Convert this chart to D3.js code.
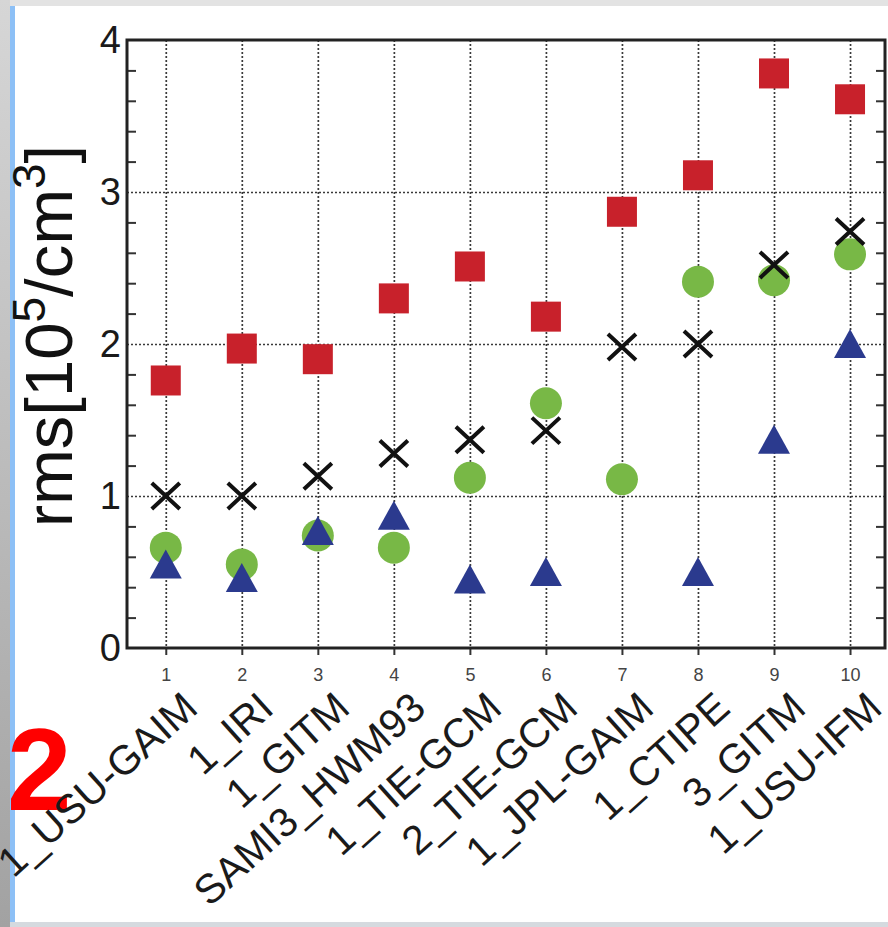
<!DOCTYPE html>
<html>
<head>
<meta charset="utf-8">
<script src="https://cdn.jsdelivr.net/npm/d3@7"></script>
<style>
  body { margin: 0; background: #fff; }
  svg { display: block; }
</style>
</head>
<body>
<div id="chart"></div>
<script>
var categories = ["1_USU-GAIM", "1_IRI", "1_GITM", "SAMI3_HWM93", "1_TIE-GCM",
                  "2_TIE-GCM", "1_JPL-GAIM", "1_CTIPE", "3_GITM", "1_USU-IFM"];
var tickNums = [1, 2, 3, 4, 5, 6, 7, 8, 9, 10];
var yTicks = [0, 1, 2, 3, 4];

// rms values (10^5/cm^3)
var redSquares    = [1.76, 1.97, 1.90, 2.30, 2.51, 2.18, 2.87, 3.11, 3.78, 3.61];
var blackCrosses  = [1.00, 1.00, 1.13, 1.28, 1.37, 1.43, 1.98, 2.00, 2.52, 2.74];
var greenCircles  = [0.66, 0.55, 0.74, 0.66, 1.12, 1.61, 1.11, 2.41, 2.42, 2.59];
var blueTriangles = [0.55, 0.46, 0.77, 0.87, 0.45, 0.50, null, 0.50, 1.37, 2.00];

var W = 888, H = 927;
var margin = {top: 40, right: 3, bottom: 279, left: 127},
    width = W - margin.left - margin.right,
    height = H - margin.top - margin.bottom;

var x = d3.scaleLinear().domain([0.49, 10.46]).range([0, width]);
var y = d3.scaleLinear().domain([0, 4]).range([height, 0]);

var svg = d3.select("#chart").append("svg")
    .attr("width", W)
    .attr("height", H)
    .style("font-family", "'Liberation Sans', Arial, sans-serif");

svg.append("rect").attr("width", W).attr("height", H).attr("fill", "#fff");

// slide frame around the picture
var defs = svg.append("defs");
var grad = defs.append("linearGradient").attr("id", "leftStrip")
    .attr("x1", 0).attr("y1", 0).attr("x2", 0).attr("y2", 1);
grad.append("stop").attr("offset", "0%").attr("stop-color", "#d6d6d6");
grad.append("stop").attr("offset", "100%").attr("stop-color", "#a2a2a2");

svg.append("rect").attr("x", 0).attr("y", 0).attr("width", W).attr("height", 6).attr("fill", "#e3e3e3");
svg.append("rect").attr("x", 10).attr("y", 6).attr("width", 5).attr("height", H - 6).attr("fill", "#8dc0f6");

// big red panel number
svg.append("text")
    .attr("x", 7).attr("y", 810)
    .attr("font-size", 116).attr("font-weight", "bold")
    .attr("fill", "#ff0000")
    .text("2");

svg.append("rect").attr("x", 0).attr("y", 0).attr("width", 10).attr("height", H).attr("fill", "url(#leftStrip)");

var g = svg.append("g")
    .attr("transform", "translate(" + margin.left + "," + margin.top + ")");

// dotted grid
g.append("g")
    .attr("class", "grid")
    .call(d3.axisBottom(x).tickValues(tickNums).tickSize(height).tickFormat(""))
    .call(function(s) { s.select(".domain").remove(); });

g.append("g")
    .attr("class", "grid")
    .call(d3.axisLeft(y).tickValues([1, 2, 3]).tickSize(-width).tickFormat(""))
    .call(function(s) { s.select(".domain").remove(); });

g.selectAll(".grid line")
    .attr("stroke", "#3a3a3a")
    .attr("stroke-width", 1.7)
    .attr("stroke-dasharray", "2,2");

// minor ticks, inside on both sides
var minor = d3.range(1, 20).filter(function(d) { return d % 5 !== 0; }).map(function(d) { return d / 5; });

g.append("g")
    .attr("class", "minor")
    .call(d3.axisLeft(y).tickValues(minor).tickSize(-9).tickFormat(""));
g.append("g")
    .attr("class", "minor")
    .attr("transform", "translate(" + width + ",0)")
    .call(d3.axisRight(y).tickValues(minor).tickSize(-9).tickFormat(""));
g.selectAll(".minor .domain").remove();
g.selectAll(".minor line").attr("stroke", "#333").attr("stroke-width", 2);

// y tick labels
var yAxis = g.append("g")
    .call(d3.axisLeft(y).tickValues(yTicks).tickSize(0).tickPadding(6).tickFormat(d3.format("d")));
yAxis.select(".domain").remove();
yAxis.selectAll("text")
    .attr("font-size", 38)
    .attr("font-family", "'Liberation Sans', Arial, sans-serif")
    .attr("fill", "#1a1a1a");

// x ticks with small numbers
var xAxis = g.append("g")
    .attr("transform", "translate(0," + height + ")")
    .call(d3.axisBottom(x).tickValues(tickNums).tickSize(7).tickPadding(13).tickFormat(d3.format("d")));
xAxis.select(".domain").remove();
xAxis.selectAll("line").attr("stroke", "#333").attr("stroke-width", 2);
xAxis.selectAll("text")
    .attr("font-size", 18)
    .attr("font-family", "'Liberation Sans', Arial, sans-serif")
    .attr("fill", "#444");

// frame
g.append("rect")
    .attr("width", width).attr("height", height)
    .attr("fill", "none")
    .attr("stroke", "#222")
    .attr("stroke-width", 3);

// rotated model names
g.selectAll(".cat")
    .data(categories)
    .enter().append("text")
    .attr("class", "cat")
    .attr("transform", function(d, i) {
        return "translate(" + (x(tickNums[i]) + 34) + "," + (height + 63) + ") rotate(-42)";
    })
    .attr("text-anchor", "end")
    .attr("font-size", 41)
    .attr("fill", "#1a1a1a")
    .text(function(d) { return d; });

// bottom strip of the slide, over the clipped labels
svg.append("rect").attr("x", 10).attr("y", 922).attr("width", W - 10).attr("height", 5).attr("fill", "#d5dadf");

// y axis title
var title = svg.append("text")
    .attr("transform", "translate(72,336) rotate(-90)")
    .attr("text-anchor", "middle")
    .attr("font-size", 67)
    .attr("fill", "#111");
title.append("tspan").text("rms[10");
title.append("tspan").attr("font-size", 46).attr("dy", -27).text("5");
title.append("tspan").attr("dy", 27).text("/cm");
title.append("tspan").attr("font-size", 46).attr("dy", -27).text("3");
title.append("tspan").attr("dy", 27).text("]");

// markers
function pts(vals) {
    return vals.map(function(v, i) { return {x: tickNums[i], v: v}; })
               .filter(function(d) { return d.v !== null; });
}

g.selectAll(".sq")
    .data(pts(redSquares))
    .enter().append("rect")
    .attr("x", function(d) { return x(d.x) - 15; })
    .attr("y", function(d) { return y(d.v) - 15; })
    .attr("width", 30).attr("height", 30)
    .attr("fill", "#c8212b");

g.selectAll(".ci")
    .data(pts(greenCircles))
    .enter().append("circle")
    .attr("cx", function(d) { return x(d.x); })
    .attr("cy", function(d) { return y(d.v); })
    .attr("r", 16)
    .attr("fill", "#78b846");

g.selectAll(".tri")
    .data(pts(blueTriangles))
    .enter().append("path")
    .attr("transform", function(d) { return "translate(" + x(d.x) + "," + y(d.v) + ")"; })
    .attr("d", "M0,-15L16,14L-16,14Z")
    .attr("fill", "#2b3a8e");

g.selectAll(".cr")
    .data(pts(blackCrosses))
    .enter().append("path")
    .attr("transform", function(d) { return "translate(" + x(d.x) + "," + y(d.v) + ")"; })
    .attr("d", "M-14,-13L14,13M-14,13L14,-13")
    .attr("stroke", "#111")
    .attr("stroke-width", 4)
    .attr("fill", "none");
</script>
</body>
</html>
